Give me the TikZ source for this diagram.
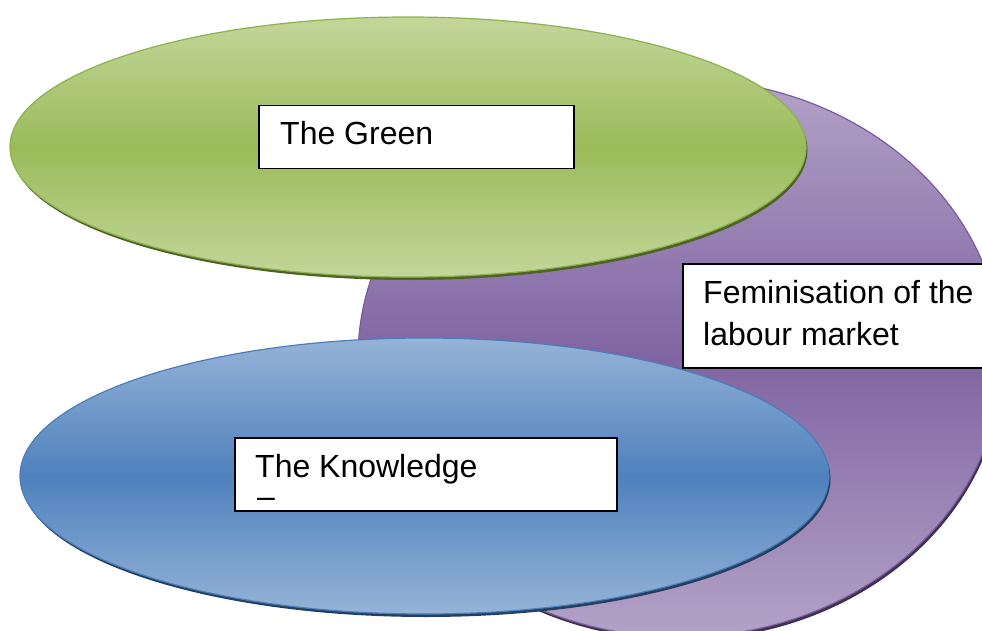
\documentclass[tikz,border=0pt]{standalone}
\usepackage{fontspec}
\setmainfont{Liberation Sans}
\usetikzlibrary{shapes.geometric}
\definecolor{greenlight}{HTML}{C3D69B}
\definecolor{greenmid}{HTML}{9BBB59}
\definecolor{greenedge}{HTML}{8DB24E}
\definecolor{greenshade}{HTML}{4F6228}
\definecolor{purplelight}{HTML}{B3A2C7}
\definecolor{purplemid}{HTML}{8064A2}
\definecolor{purpleedge}{HTML}{7A5C9E}
\definecolor{purpleshade}{HTML}{3F3151}
\definecolor{bluelight}{HTML}{95B3D7}
\definecolor{bluemid}{HTML}{4F81BD}
\definecolor{blueedge}{HTML}{4A7EBB}
\definecolor{blueshade}{HTML}{243F60}
\begin{document}
\begin{tikzpicture}[x=1bp,y=-1bp,
  blob/.style={ellipse, inner sep=0pt, outer sep=0pt, line width=1.2bp},
  labelbox/.style={draw=black, fill=white, line width=1.5bp, anchor=north west, inner sep=0pt},
  caption/.style={font=\fontsize{32bp}{42bp}\selectfont, inner sep=0pt, anchor=base west, align=left}]
\clip (0,0) rectangle (982,631);
\fill[white] (0,0) rectangle (982,631);

% centres of the three ellipses
\coordinate (cL) at (680,358);
\coordinate (cG) at (408,147);
\coordinate (cK) at (424.5,476);

% purple ellipse (back)
\fill[purpleshade] ([shift={(1.5,3)}]cL) ellipse [x radius=322bp, y radius=279bp];
\node[blob, minimum width=644bp, minimum height=558bp, draw=purpleedge,
      top color=purplelight, bottom color=purplelight, middle color=purplemid] (labour) at (cL) {};

% green ellipse
\fill[greenshade] ([shift={(1.5,3)}]cG) ellipse [x radius=398bp, y radius=130bp];
\node[blob, minimum width=796bp, minimum height=260bp, draw=greenedge,
      top color=greenlight, bottom color=greenlight, middle color=greenmid] (green) at (cG) {};

% blue ellipse
\fill[blueshade] ([shift={(1.5,3)}]cK) ellipse [x radius=404.5bp, y radius=138bp];
\node[blob, minimum width=809bp, minimum height=276bp, draw=blueedge,
      top color=bluelight, bottom color=bluelight, middle color=bluemid] (knowledge) at (cK) {};

% text boxes
\node[labelbox, minimum width=315bp, minimum height=63bp] (greenbox) at (258,105) {};
\node[caption] (greentext) at (280,145) {The Green};

\node[labelbox, minimum width=330bp, minimum height=104bp] (labourbox) at (682,263) {};
\node[caption] (labourtext) at (703,303) {Feminisation of the};
\node[caption] (labourtext2) at (703,345) {labour market};

\node[labelbox, minimum width=382bp, minimum height=73bp] (knowbox) at (234,437) {};
\node[caption] (knowtext) at (255,477) {The Knowledge};
\node[caption] (knowdash) at (257,507) {–};
\end{tikzpicture}
\end{document}
